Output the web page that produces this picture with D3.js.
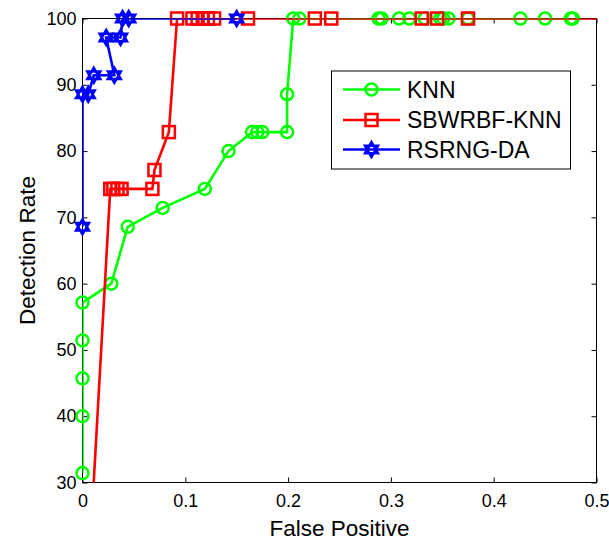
<!DOCTYPE html>
<html>
<head>
<meta charset="utf-8">
<script src="https://cdn.jsdelivr.net/npm/d3@7"></script>
<style>
  body { margin: 0; background: #fff; }
  text { font-family: Arial, "Liberation Sans", sans-serif; fill: #000; }
</style>
</head>
<body>
<div id="chart"></div>
<script>
// data
const knnFP = [0, 0, 0, 0, 0, 0.028, 0.044, 0.078, 0.119, 0.142, 0.165, 0.170, 0.175, 0.199, 0.199, 0.205, 0.211,
  0.288, 0.291, 0.308, 0.318, 0.333, 0.348, 0.351, 0.356, 0.375, 0.426, 0.450, 0.475, 0.477];
const knnDR = [31.43, 40, 45.71, 51.43, 57.14, 60, 68.57, 71.43, 74.29, 80, 82.86, 82.86, 82.86, 82.86, 88.57, 100, 100,
  100, 100, 100, 100, 100, 100, 100, 100, 100, 100, 100, 100, 100];

const sbwFP = [0, 0.027, 0.030, 0.034, 0.038, 0.068, 0.070, 0.084, 0.092, 0.107, 0.112, 0.117, 0.122, 0.128, 0.161,
  0.226, 0.242, 0.330, 0.345, 0.375, 1];
const sbwDR = [0, 74.29, 74.29, 74.29, 74.29, 74.29, 77.14, 82.86, 100, 100, 100, 100, 100, 100, 100,
  100, 100, 100, 100, 100, 100];

const rsrFP = [0, 0, 0.0056, 0.011, 0.031, 0.023, 0.037, 0.039, 0.045, 0.150];
const rsrDR = [68.57, 88.57, 88.57, 91.43, 91.43, 97.14, 97.14, 100, 100, 100];

const xTicks = [0, 0.1, 0.2, 0.3, 0.4, 0.5];
const yTicks = [30, 40, 50, 60, 70, 80, 90, 100];

const seriesNames = ["KNN", "SBWRBF-KNN", "RSRNG-DA"];
const seriesColors = ["#00ff00", "#ff0000", "#0000ff"];
const seriesMarkers = ["circle", "square", "hexagram"];

const width = 609, height = 541;
const margin = { top: 18.5, right: 12.5, bottom: 58.5, left: 82.5 };

const svg = d3.select("#chart").append("svg")
  .attr("width", width)
  .attr("height", height);

const x = d3.scaleLinear().domain([0, 0.5]).range([margin.left, width - margin.right]);
const y = d3.scaleLinear().domain([30, 100]).range([height - margin.bottom, margin.top]);

svg.append("defs").append("clipPath").attr("id", "plotclip")
  .append("rect")
  .attr("x", x(0)).attr("y", y(100))
  .attr("width", x(0.5) - x(0)).attr("height", y(30) - y(100));

// axes with inward ticks on all four sides
const tickLen = 5;
svg.append("g")
  .attr("transform", `translate(0,${y(30)})`)
  .call(d3.axisBottom(x).tickValues(xTicks).tickSizeInner(-tickLen).tickSizeOuter(0).tickPadding(12)
    .tickFormat(d => d === 0 ? "0" : d3.format(".1f")(d)))
  .call(g => g.select(".domain").remove())
  .selectAll("text").attr("font-size", 18);

svg.append("g")
  .attr("transform", `translate(${x(0)},0)`)
  .call(d3.axisLeft(y).tickValues(yTicks).tickSizeInner(-tickLen).tickSizeOuter(0).tickPadding(6))
  .call(g => g.select(".domain").remove())
  .selectAll("text").attr("font-size", 18);

svg.append("g")
  .attr("transform", `translate(0,${y(100)})`)
  .call(d3.axisTop(x).tickValues(xTicks).tickSizeInner(-tickLen).tickSizeOuter(0).tickFormat(""))
  .call(g => g.select(".domain").remove());

svg.append("g")
  .attr("transform", `translate(${x(0.5)},0)`)
  .call(d3.axisRight(y).tickValues(yTicks).tickSizeInner(-tickLen).tickSizeOuter(0).tickFormat(""))
  .call(g => g.select(".domain").remove());

svg.selectAll(".tick line").attr("stroke", "#000");
svg.selectAll(".tick text").attr("font-family", "Arial, 'Liberation Sans', sans-serif");

svg.append("rect")
  .attr("x", x(0)).attr("y", y(100))
  .attr("width", x(0.5) - x(0)).attr("height", y(30) - y(100))
  .attr("fill", "none").attr("stroke", "#000").attr("stroke-width", 1);

// marker drawing
function hexagram(r) {
  const p = a => [r * Math.cos(a), r * Math.sin(a)];
  const t1 = [-90, 30, 150].map(a => p(a * Math.PI / 180));
  const t2 = [90, 210, 330].map(a => p(a * Math.PI / 180));
  return "M" + t1.join("L") + "Z M" + t2.join("L") + "Z";
}

function drawMarker(g, kind, color) {
  if (kind === "circle") {
    g.append("circle").attr("r", 6).attr("fill", "none").attr("stroke", color).attr("stroke-width", 2.5);
  } else if (kind === "square") {
    g.append("rect").attr("x", -6).attr("y", -6).attr("width", 12).attr("height", 12)
      .attr("fill", "none").attr("stroke", color).attr("stroke-width", 2.5);
  } else {
    g.append("path").attr("d", hexagram(7.5)).attr("fill", "none").attr("stroke", color).attr("stroke-width", 2.5);
  }
}

const allSeries = [
  { fp: knnFP, dr: knnDR },
  { fp: sbwFP, dr: sbwDR },
  { fp: rsrFP, dr: rsrDR }
];

const line = d3.line().x(d => x(d[0])).y(d => y(d[1]));

allSeries.forEach((s, i) => {
  const pts = s.fp.map((v, j) => [v, s.dr[j]]);
  svg.append("path")
    .datum(pts)
    .attr("clip-path", "url(#plotclip)")
    .attr("fill", "none")
    .attr("stroke", seriesColors[i])
    .attr("stroke-width", 2.6)
    .attr("d", line);

  const inside = pts.filter(d => d[0] >= 0 && d[0] <= 0.5 && d[1] >= 30 && d[1] <= 100);
  svg.append("g").selectAll("g")
    .data(inside)
    .enter()
    .append("g")
    .attr("transform", d => `translate(${x(d[0])},${y(d[1])})`)
    .each(function() { drawMarker(d3.select(this), seriesMarkers[i], seriesColors[i]); });
});

// axis labels
svg.append("text")
  .attr("x", (x(0) + x(0.5)) / 2)
  .attr("y", 536)
  .attr("text-anchor", "middle")
  .attr("font-size", 22.5)
  .text("False Positive");

svg.append("text")
  .attr("transform", `translate(35,${(y(30) + y(100)) / 2}) rotate(-90)`)
  .attr("text-anchor", "middle")
  .attr("font-size", 22.5)
  .text("Detection Rate");

// legend
const legend = svg.append("g");
legend.append("rect")
  .attr("x", 331.5).attr("y", 71)
  .attr("width", 239).attr("height", 98)
  .attr("fill", "#fff").attr("stroke", "#000").attr("stroke-width", 1);

const rowY = [89.5, 120, 149.5];
seriesNames.forEach((name, i) => {
  const row = legend.append("g").attr("transform", `translate(0,${rowY[i]})`);
  row.append("line")
    .attr("x1", 343).attr("x2", 400)
    .attr("stroke", seriesColors[i]).attr("stroke-width", 2.6);
  const m = row.append("g").attr("transform", "translate(371.5,0)");
  drawMarker(m, seriesMarkers[i], seriesColors[i]);
  row.append("text")
    .attr("x", 407)
    .attr("y", 8)
    .attr("font-size", 23)
    .text(name);
});
</script>
</body>
</html>
